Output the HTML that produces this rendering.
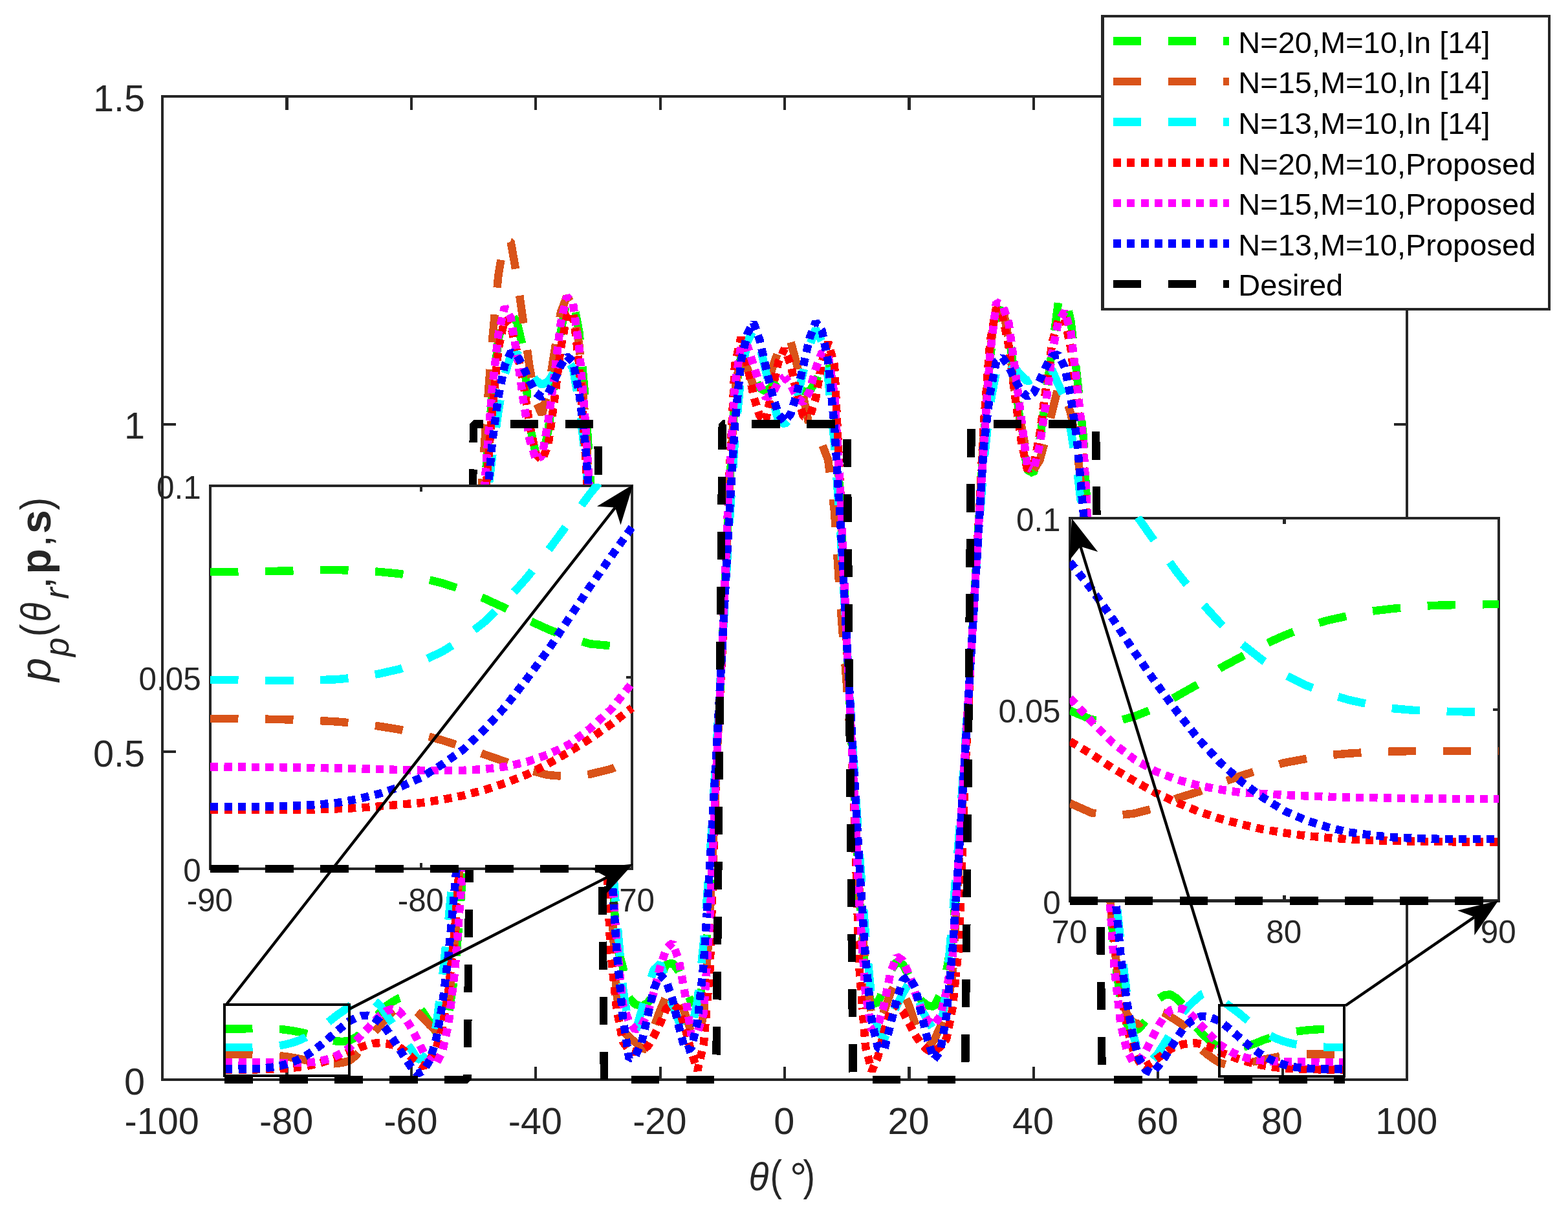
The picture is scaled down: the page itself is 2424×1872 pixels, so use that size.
<!DOCTYPE html>
<html lang="en"><head><meta charset="utf-8"><title>Beampattern comparison</title>
<style>html,body{margin:0;padding:0;background:#fff;}body{width:2424px;height:1872px;overflow:hidden;}svg{display:block;}text{font-family:"Liberation Sans", sans-serif;fill:#262626;}.c{fill:none;stroke-width:12.5;stroke-linejoin:bevel;stroke-linecap:butt;shape-rendering:crispEdges;}.ax{fill:none;stroke:#262626;stroke-width:4.2;shape-rendering:crispEdges;}.an{fill:none;stroke:#000;stroke-width:4.4;}.tk{font-size:57.6px;}.ti{font-size:49.4px;}.lg{font-size:47px;fill:#000;}</style></head><body>
<svg xmlns="http://www.w3.org/2000/svg" width="2424" height="1872" viewBox="0 0 2424 1872">
<rect x="0" y="0" width="2424" height="1872" fill="#fff"/>
<defs>
<clipPath id="cm"><rect x="243.0" y="141.0" width="1940.0" height="1536.0"/></clipPath>
<clipPath id="cl"><rect x="324.7" y="747.7" width="656.0" height="603.3"/></clipPath>
<clipPath id="cr"><rect x="1653.6" y="797.8" width="666.9000000000001" height="602.7"/></clipPath>
</defs>
<g id="main-axes">
<rect class="ax" x="251.0" y="149.0" width="1924.0" height="1520.0"/>
<path class="ax" d="M443.4 1669.0 V1648.5 M443.4 149.0 V169.5 M635.8 1669.0 V1648.5 M635.8 149.0 V169.5 M828.2 1669.0 V1648.5 M828.2 149.0 V169.5 M1020.6 1669.0 V1648.5 M1020.6 149.0 V169.5 M1213.0 1669.0 V1648.5 M1213.0 149.0 V169.5 M1405.4 1669.0 V1648.5 M1405.4 149.0 V169.5 M1597.8 1669.0 V1648.5 M1597.8 149.0 V169.5 M1790.2 1669.0 V1648.5 M1790.2 149.0 V169.5 M1982.6 1669.0 V1648.5 M1982.6 149.0 V169.5 M251.0 1162.3 H271.5 M2175.0 1162.3 H2154.5 M251.0 655.7 H271.5 M2175.0 655.7 H2154.5"/>
<text class="tk" x="250.2" y="1753.0" text-anchor="middle">-100</text>
<text class="tk" x="442.6" y="1753.0" text-anchor="middle">-80</text>
<text class="tk" x="635.0" y="1753.0" text-anchor="middle">-60</text>
<text class="tk" x="827.4" y="1753.0" text-anchor="middle">-40</text>
<text class="tk" x="1019.8" y="1753.0" text-anchor="middle">-20</text>
<text class="tk" x="1212.2" y="1753.0" text-anchor="middle">0</text>
<text class="tk" x="1404.6" y="1753.0" text-anchor="middle">20</text>
<text class="tk" x="1597.0" y="1753.0" text-anchor="middle">40</text>
<text class="tk" x="1789.4" y="1753.0" text-anchor="middle">60</text>
<text class="tk" x="1981.8" y="1753.0" text-anchor="middle">80</text>
<text class="tk" x="2174.2" y="1753.0" text-anchor="middle">100</text>
<text class="tk" x="224.0" y="1691.6" text-anchor="end">0</text>
<text class="tk" x="224.0" y="1184.9" text-anchor="end">0.5</text>
<text class="tk" x="224.0" y="678.3" text-anchor="end">1</text>
<text class="tk" x="224.0" y="171.6" text-anchor="end">1.5</text>
</g>
<g id="main-curves" clip-path="url(#cm)">
<path class="c" stroke="#00ff00" stroke-dasharray="43.3 41.73" stroke-dashoffset="0.0" d="M347.2 1590.5 L356.8 1590.5 L366.4 1590.4 L376.1 1590.3 L385.7 1590.2 L395.3 1590.0 L404.9 1590.0 L414.5 1590.1 L424.2 1590.5 L433.8 1591.0 L443.4 1592.1 L453.0 1593.5 L462.6 1595.3 L472.3 1597.5 L481.9 1600.1 L491.5 1603.1 L501.1 1605.6 L510.7 1607.9 L520.4 1609.5 L530.0 1610.0 L539.6 1608.7 L549.2 1604.1 L558.8 1597.1 L568.5 1586.9 L578.1 1575.8 L587.7 1564.6 L597.3 1555.0 L606.9 1548.4 L616.6 1543.3 L626.2 1540.3 L635.8 1543.3 L645.4 1553.5 L655.0 1566.0 L664.7 1580.8 L674.3 1595.8 L683.9 1593.0 L693.5 1567.7 L703.1 1506.9 L712.8 1385.3 L722.4 1233.3 L727.2 1147.1"/>
<path class="c" stroke="#00ff00" stroke-dasharray="43.3 41.73" stroke-dashoffset="0.0" d="M727.2 1147.1 L732.0 1061.0 L741.6 888.7 L751.2 726.6 L760.9 610.1 L770.5 523.9 L780.1 488.5 L789.7 483.4 L799.3 498.6 L809.0 539.1 L818.6 655.7 L828.2 701.3 L837.8 711.4 L847.4 665.8 L857.1 594.9 L866.7 513.8 L876.3 463.1 L885.9 463.1 L895.5 513.8 L905.2 620.2 L914.8 777.3 L924.4 959.7 L929.2 1045.8"/>
<path class="c" stroke="#00ff00" stroke-dasharray="43.3 41.73" stroke-dashoffset="10.6" d="M929.2 1045.8 L934.0 1131.9 L943.6 1304.2 L953.3 1461.3 L962.9 1494.7 L972.5 1542.3 L982.1 1552.5 L991.7 1555.5 L1001.4 1550.4 L1011.0 1535.2 L1020.6 1508.9 L1030.2 1490.7 L1039.8 1488.6 L1049.5 1501.8 L1059.1 1527.1 L1068.7 1549.4 L1078.3 1552.5 L1087.9 1517.0 L1097.6 1385.3 L1107.2 1192.7 L1112.0 1093.9"/>
<path class="c" stroke="#00ff00" stroke-dasharray="43.3 41.73" stroke-dashoffset="0.0" d="M1112.0 1093.9 L1116.8 995.1 L1126.4 777.3 L1136.0 615.1 L1145.7 549.3 L1155.3 559.4 L1164.9 579.7 L1174.5 599.9 L1184.1 605.0 L1193.8 596.9 L1203.4 586.8 L1213.0 584.7 L1222.6 589.8 L1232.2 596.9 L1241.9 605.0 L1251.5 605.0 L1261.1 589.8 L1270.7 564.5 L1280.3 554.3 L1290.0 615.1 L1299.6 787.4 L1309.2 995.1 L1314.0 1093.9"/>
<path class="c" stroke="#00ff00" stroke-dasharray="43.3 41.73" stroke-dashoffset="69.6" d="M1314.0 1093.9 L1318.8 1192.7 L1328.4 1385.3 L1338.1 1517.0 L1347.7 1552.5 L1357.3 1549.4 L1366.9 1527.1 L1376.5 1501.8 L1386.2 1486.6 L1395.8 1490.7 L1405.4 1508.9 L1415.0 1532.2 L1424.6 1547.4 L1434.3 1554.5 L1443.9 1555.8 L1453.5 1537.3 L1463.1 1501.8 L1472.7 1446.1 L1482.4 1321.4 L1492.0 1162.3 L1496.8 1083.8"/>
<path class="c" stroke="#00ff00" stroke-dasharray="43.3 41.73" stroke-dashoffset="6.9" d="M1496.8 1083.8 L1501.6 1005.3 L1511.2 838.1 L1520.8 681.0 L1530.5 554.3 L1540.1 483.4 L1549.7 478.3 L1559.3 513.8 L1568.9 584.7 L1578.6 665.8 L1588.2 726.6 L1597.8 731.7 L1607.4 681.0 L1617.0 610.1 L1626.7 539.1 L1636.3 465.2 L1645.9 456.0 L1655.5 496.6 L1665.1 582.7 L1674.8 675.9 L1684.4 858.3 L1694.0 1025.5 L1698.8 1109.1"/>
<path class="c" stroke="#00ff00" stroke-dasharray="43.3 41.73" stroke-dashoffset="36.0" d="M1698.8 1109.1 L1703.6 1192.7 L1713.2 1354.9 L1722.9 1476.5 L1732.5 1547.4 L1742.1 1582.9 L1751.7 1595.0 L1761.3 1590.0 L1771.0 1577.8 L1780.6 1559.6 L1790.2 1544.4 L1799.8 1538.3 L1809.4 1537.3 L1819.1 1543.3 L1828.7 1552.9 L1838.3 1569.7 L1847.9 1585.9 L1857.5 1597.1 L1867.2 1606.2 L1876.8 1614.3 L1886.4 1618.6 L1896.0 1621.0 L1905.6 1621.8 L1915.3 1620.2 L1924.9 1617.9 L1934.5 1614.8 L1944.1 1611.6 L1953.7 1607.4 L1963.4 1604.4 L1973.0 1601.3 L1982.6 1598.7 L1992.2 1596.5 L2001.8 1594.8 L2011.5 1593.5 L2021.1 1592.4 L2030.7 1591.7 L2040.3 1591.1 L2049.9 1590.8 L2059.6 1590.7 L2069.2 1590.6 L2078.8 1590.5"/>
<path class="c" stroke="#d95319" stroke-dasharray="43.3 41.73" stroke-dashoffset="0.0" d="M347.2 1629.3 L356.8 1629.3 L366.4 1629.4 L376.1 1629.5 L385.7 1629.6 L395.3 1629.8 L404.9 1630.1 L414.5 1630.6 L424.2 1631.3 L433.8 1632.2 L443.4 1633.5 L453.0 1635.0 L462.6 1636.8 L472.3 1638.8 L481.9 1640.7 L491.5 1642.8 L501.1 1644.2 L510.7 1644.7 L520.4 1644.0 L530.0 1642.6 L539.6 1640.1 L549.2 1632.5 L558.8 1621.4 L568.5 1608.2 L578.1 1596.0 L587.7 1584.9 L597.3 1573.7 L606.9 1564.1 L616.6 1556.5 L626.2 1553.5 L635.8 1556.5 L645.4 1564.6 L655.0 1574.8 L664.7 1584.9 L674.3 1594.0 L683.9 1590.0 L693.5 1552.5 L703.1 1456.2 L712.8 1304.2 L722.4 1131.9 L727.2 1045.8"/>
<path class="c" stroke="#d95319" stroke-dasharray="43.3 41.73" stroke-dashoffset="77.6" d="M727.2 1045.8 L732.0 959.7 L741.6 797.5 L751.2 655.7 L760.9 528.0 L770.5 424.6 L780.1 369.9 L789.7 374.0 L799.3 428.7 L809.0 497.6 L818.6 566.5 L828.2 620.2 L837.8 640.5 L847.4 605.0 L857.1 544.2 L866.7 483.4 L876.3 458.1 L885.9 473.3 L895.5 534.1 L905.2 655.7 L914.8 817.8 L924.4 1000.2 L929.2 1086.3"/>
<path class="c" stroke="#d95319" stroke-dasharray="43.3 41.73" stroke-dashoffset="82.2" d="M929.2 1086.3 L934.0 1172.5 L943.6 1365.0 L953.3 1537.3 L962.9 1593.0 L972.5 1603.1 L982.1 1611.2 L991.7 1620.4 L1001.4 1622.4 L1011.0 1587.9 L1020.6 1561.6 L1030.2 1539.3 L1039.8 1532.2 L1049.5 1540.3 L1059.1 1567.7 L1068.7 1596.0 L1078.3 1608.2 L1087.9 1567.7 L1097.6 1415.7 L1107.2 1192.7 L1112.0 1093.9"/>
<path class="c" stroke="#d95319" stroke-dasharray="43.3 41.73" stroke-dashoffset="27.9" d="M1112.0 1093.9 L1116.8 995.1 L1126.4 777.3 L1136.0 605.0 L1145.7 544.2 L1155.3 569.5 L1164.9 596.9 L1174.5 611.1 L1184.1 605.0 L1193.8 569.5 L1203.4 542.2 L1213.0 520.9 L1222.6 529.0 L1232.2 564.5 L1241.9 613.1 L1251.5 660.7 L1261.1 678.0 L1270.7 686.1 L1280.3 711.4 L1290.0 790.4 L1299.6 939.4 L1309.2 1061.0 L1314.0 1131.9"/>
<path class="c" stroke="#d95319" stroke-dasharray="43.3 41.73" stroke-dashoffset="36.0" d="M1314.0 1131.9 L1318.8 1202.9 L1328.4 1375.1 L1338.1 1496.7 L1347.7 1572.7 L1357.3 1582.9 L1366.9 1562.6 L1376.5 1535.2 L1386.2 1517.0 L1395.8 1532.2 L1405.4 1554.5 L1415.0 1582.9 L1424.6 1608.2 L1434.3 1618.3 L1443.9 1608.2 L1453.5 1587.9 L1463.1 1562.6 L1472.7 1506.9 L1482.4 1334.6 L1492.0 1162.3 L1496.8 1083.8"/>
<path class="c" stroke="#d95319" stroke-dasharray="43.3 41.73" stroke-dashoffset="48.2" d="M1496.8 1083.8 L1501.6 1005.3 L1511.2 838.1 L1520.8 675.9 L1530.5 544.2 L1540.1 468.2 L1549.7 473.3 L1559.3 523.9 L1568.9 609.1 L1578.6 655.7 L1588.2 706.3 L1597.8 726.6 L1607.4 711.4 L1617.0 675.9 L1626.7 635.4 L1636.3 596.9 L1645.9 610.1 L1655.5 639.5 L1665.1 696.2 L1674.8 777.3 L1684.4 888.7 L1694.0 1025.5 L1698.8 1109.1"/>
<path class="c" stroke="#d95319" stroke-dasharray="43.3 41.73" stroke-dashoffset="62.1" d="M1698.8 1109.1 L1703.6 1192.7 L1713.2 1354.9 L1722.9 1466.3 L1732.5 1537.3 L1742.1 1567.7 L1751.7 1580.8 L1761.3 1582.9 L1771.0 1572.7 L1780.6 1563.6 L1790.2 1561.6 L1799.8 1565.6 L1809.4 1571.7 L1819.1 1577.8 L1828.7 1584.4 L1838.3 1596.0 L1847.9 1610.2 L1857.5 1622.4 L1867.2 1630.5 L1876.8 1637.6 L1886.4 1643.2 L1896.0 1645.7 L1905.6 1646.5 L1915.3 1645.9 L1924.9 1644.4 L1934.5 1641.8 L1944.1 1640.1 L1953.7 1637.8 L1963.4 1635.9 L1973.0 1634.1 L1982.6 1632.5 L1992.2 1631.4 L2001.8 1630.5 L2011.5 1630.0 L2021.1 1629.7 L2030.7 1629.5 L2040.3 1629.4 L2049.9 1629.4 L2059.6 1629.4 L2069.2 1629.4 L2078.8 1629.4"/>
<path class="c" stroke="#00ffff" stroke-dasharray="43.3 41.73" stroke-dashoffset="0.0" d="M347.2 1619.0 L356.8 1619.1 L366.4 1619.1 L376.1 1619.2 L385.7 1619.2 L395.3 1619.1 L404.9 1618.9 L414.5 1618.4 L424.2 1617.4 L433.8 1616.1 L443.4 1614.1 L453.0 1611.6 L462.6 1608.1 L472.3 1603.7 L481.9 1598.3 L491.5 1592.1 L501.1 1585.0 L510.7 1577.4 L520.4 1569.8 L530.0 1563.1 L539.6 1556.2 L549.2 1549.4 L558.8 1544.4 L568.5 1542.8 L578.1 1546.4 L587.7 1554.5 L597.3 1568.7 L606.9 1582.6 L616.6 1595.5 L626.2 1609.2 L635.8 1622.4 L645.4 1637.6 L655.0 1635.6 L664.7 1622.4 L674.3 1585.9 L683.9 1511.9 L693.5 1420.7 L703.1 1319.4 L712.8 1213.0 L722.4 1106.6 L727.2 1053.4"/>
<path class="c" stroke="#00ffff" stroke-dasharray="43.3 41.73" stroke-dashoffset="30.7" d="M727.2 1053.4 L732.0 1000.2 L741.6 893.8 L751.2 787.4 L760.9 706.3 L770.5 635.4 L780.1 579.7 L789.7 549.3 L799.3 546.2 L809.0 559.4 L818.6 574.6 L828.2 587.8 L837.8 594.9 L847.4 589.8 L857.1 574.6 L866.7 559.4 L876.3 554.3 L885.9 569.5 L895.5 625.3 L905.2 711.4 L914.8 838.1 L924.4 1000.2 L929.2 1076.2"/>
<path class="c" stroke="#00ffff" stroke-dasharray="43.3 41.73" stroke-dashoffset="65.4" d="M929.2 1076.2 L934.0 1152.2 L943.6 1294.1 L953.3 1415.7 L962.9 1527.1 L972.5 1587.9 L982.1 1596.0 L991.7 1562.6 L1001.4 1527.1 L1011.0 1498.8 L1020.6 1489.6 L1030.2 1517.0 L1039.8 1554.5 L1049.5 1578.8 L1059.1 1596.0 L1068.7 1593.0 L1078.3 1547.4 L1087.9 1456.2 L1097.6 1324.5 L1107.2 1162.3 L1112.0 1078.7"/>
<path class="c" stroke="#00ffff" stroke-dasharray="43.3 41.73" stroke-dashoffset="69.6" d="M1112.0 1078.7 L1116.8 995.1 L1126.4 827.9 L1136.0 681.0 L1145.7 579.7 L1155.3 529.0 L1164.9 508.7 L1174.5 534.1 L1184.1 574.6 L1193.8 615.1 L1203.4 650.6 L1213.0 655.7 L1222.6 645.5 L1232.2 615.1 L1241.9 574.6 L1251.5 534.1 L1261.1 508.7 L1270.7 529.0 L1280.3 584.7 L1290.0 686.1 L1299.6 827.9 L1309.2 995.1 L1314.0 1078.7"/>
<path class="c" stroke="#00ffff" stroke-dasharray="43.3 41.73" stroke-dashoffset="13.1" d="M1314.0 1078.7 L1318.8 1162.3 L1328.4 1314.3 L1338.1 1446.1 L1347.7 1547.4 L1357.3 1593.0 L1366.9 1606.7 L1376.5 1579.8 L1386.2 1554.5 L1395.8 1535.2 L1405.4 1519.6 L1415.0 1522.1 L1424.6 1560.6 L1434.3 1577.8 L1443.9 1593.0 L1453.5 1598.1 L1463.1 1527.1 L1472.7 1415.7 L1482.4 1294.1 L1492.0 1152.2 L1496.8 1078.7"/>
<path class="c" stroke="#00ffff" stroke-dasharray="43.3 41.73" stroke-dashoffset="50.7" d="M1496.8 1078.7 L1501.6 1005.3 L1511.2 848.2 L1520.8 716.5 L1530.5 625.3 L1540.1 574.6 L1549.7 554.3 L1559.3 559.4 L1568.9 569.5 L1578.6 579.7 L1588.2 589.8 L1597.8 584.7 L1607.4 574.6 L1617.0 564.5 L1626.7 572.6 L1636.3 594.9 L1645.9 615.1 L1655.5 665.8 L1665.1 726.6 L1674.8 807.7 L1684.4 909.0 L1694.0 1025.5 L1698.8 1083.8"/>
<path class="c" stroke="#00ffff" stroke-dasharray="43.3 41.73" stroke-dashoffset="16.8" d="M1698.8 1083.8 L1703.6 1142.1 L1713.2 1253.5 L1722.9 1365.0 L1732.5 1456.2 L1742.1 1537.3 L1751.7 1598.1 L1761.3 1633.5 L1771.0 1640.6 L1780.6 1639.6 L1790.2 1628.5 L1799.8 1613.3 L1809.4 1598.1 L1819.1 1580.8 L1828.7 1565.1 L1838.3 1554.5 L1847.9 1545.4 L1857.5 1537.3 L1867.2 1533.2 L1876.8 1536.3 L1886.4 1544.6 L1896.0 1551.8 L1905.6 1559.0 L1915.3 1566.1 L1924.9 1574.2 L1934.5 1582.1 L1944.1 1589.2 L1953.7 1595.5 L1963.4 1600.9 L1973.0 1605.4 L1982.6 1609.1 L1992.2 1611.9 L2001.8 1614.1 L2011.5 1615.8 L2021.1 1617.1 L2030.7 1618.1 L2040.3 1618.5 L2049.9 1618.8 L2059.6 1618.9 L2069.2 1619.0 L2078.8 1619.0"/>
<path class="c" stroke="#ff0000" stroke-dasharray="12.2 9.1" stroke-dashoffset="0.0" d="M347.2 1653.4 L356.8 1653.4 L366.4 1653.4 L376.1 1653.4 L385.7 1653.4 L395.3 1653.3 L404.9 1653.1 L414.5 1652.9 L424.2 1652.5 L433.8 1652.0 L443.4 1651.6 L453.0 1650.7 L462.6 1649.6 L472.3 1648.2 L481.9 1646.3 L491.5 1644.1 L501.1 1641.3 L510.7 1638.1 L520.4 1634.6 L530.0 1630.8 L539.6 1626.4 L549.2 1622.9 L558.8 1618.3 L568.5 1615.3 L578.1 1612.8 L587.7 1612.1 L597.3 1613.3 L606.9 1615.3 L616.6 1617.8 L626.2 1625.4 L635.8 1634.5 L645.4 1642.7 L655.0 1648.7 L664.7 1638.6 L674.3 1620.4 L683.9 1587.9 L693.5 1531.2 L703.1 1435.9 L712.8 1304.2 L722.4 1162.3 L727.2 1088.9"/>
<path class="c" stroke="#ff0000" stroke-dasharray="12.2 9.1" stroke-dashoffset="20.9" d="M727.2 1088.9 L732.0 1015.4 L741.6 878.6 L751.2 757.0 L760.9 635.4 L770.5 539.1 L780.1 493.5 L789.7 503.7 L799.3 544.2 L809.0 591.8 L818.6 655.7 L828.2 701.3 L833.0 706.3"/>
<path class="c" stroke="#ff0000" stroke-dasharray="12.2 9.1" stroke-dashoffset="7.6" d="M833.0 706.3 L837.8 711.4 L847.4 688.1 L857.1 618.2 L866.7 539.1 L876.3 488.5 L885.9 483.4 L895.5 564.5 L905.2 706.3 L914.8 868.5 L924.4 1040.7 L929.2 1142.1"/>
<path class="c" stroke="#ff0000" stroke-dasharray="12.2 9.1" stroke-dashoffset="20.3" d="M929.2 1142.1 L934.0 1243.4 L943.6 1466.3 L953.3 1559.6 L962.9 1610.2 L972.5 1623.4 L982.1 1626.4 L991.7 1624.4 L1001.4 1617.3 L1011.0 1601.1 L1020.6 1581.9 L1030.2 1558.5 L1039.8 1552.5 L1049.5 1559.6 L1059.1 1588.9 L1068.7 1626.4 L1078.3 1654.8 L1087.9 1613.3 L1092.8 1555.0"/>
<path class="c" stroke="#ff0000" stroke-dasharray="12.2 9.1" stroke-dashoffset="13.2" d="M1092.8 1555.0 L1097.6 1496.7 L1107.2 1192.7 L1116.8 1000.2 L1126.4 757.0 L1130.3 680.0"/>
<path class="c" stroke="#ff0000" stroke-dasharray="12.2 9.1" stroke-dashoffset="19.6" d="M1130.3 680.0 L1136.0 564.5 L1145.7 520.9 L1155.3 564.5 L1164.9 612.1 L1174.5 643.5 L1180.3 645.9"/>
<path class="c" stroke="#ff0000" stroke-dasharray="12.2 9.1" stroke-dashoffset="20.8" d="M1180.3 645.9 L1184.1 647.6 L1193.8 603.0 L1203.4 559.4 L1213.0 539.1 L1222.6 564.5 L1232.2 611.1 L1241.9 643.5 L1245.7 644.3"/>
<path class="c" stroke="#ff0000" stroke-dasharray="12.2 9.1" stroke-dashoffset="10.3" d="M1245.7 644.3 L1251.5 645.5 L1261.1 615.1 L1270.7 559.4 L1280.3 529.0 L1290.0 564.5 L1295.7 686.1"/>
<path class="c" stroke="#ff0000" stroke-dasharray="12.2 9.1" stroke-dashoffset="19.1" d="M1295.7 686.1 L1299.6 767.1 L1309.2 1000.2 L1318.8 1192.7 L1328.4 1496.7 L1333.2 1557.5"/>
<path class="c" stroke="#ff0000" stroke-dasharray="12.2 9.1" stroke-dashoffset="9.5" d="M1333.2 1557.5 L1338.1 1618.3 L1347.7 1655.8 L1357.3 1633.5 L1366.9 1593.0 L1376.5 1562.6 L1386.2 1552.5 L1395.8 1563.6 L1405.4 1581.9 L1415.0 1600.1 L1424.6 1614.3 L1434.3 1623.4 L1443.9 1625.4 L1453.5 1618.3 L1463.1 1606.2 L1472.7 1557.5 L1477.5 1509.4"/>
<path class="c" stroke="#ff0000" stroke-dasharray="12.2 9.1" stroke-dashoffset="5.3" d="M1477.5 1509.4 L1482.4 1461.3 L1492.0 1192.7 L1501.6 1005.3 L1511.2 838.1 L1517.0 728.6"/>
<path class="c" stroke="#ff0000" stroke-dasharray="12.2 9.1" stroke-dashoffset="10.1" d="M1517.0 728.6 L1520.8 655.7 L1530.5 529.0 L1540.1 475.3 L1549.7 488.5 L1559.3 534.1 L1568.9 610.1 L1578.6 681.0 L1588.2 726.6 L1591.1 725.1"/>
<path class="c" stroke="#ff0000" stroke-dasharray="12.2 9.1" stroke-dashoffset="9.9" d="M1591.1 725.1 L1597.8 721.5 L1607.4 670.9 L1617.0 599.9 L1626.7 529.0 L1636.3 493.5 L1645.9 493.5 L1655.5 539.1 L1665.1 620.2 L1674.8 716.5 L1684.4 878.6 L1694.0 1025.5 L1698.8 1104.1"/>
<path class="c" stroke="#ff0000" stroke-dasharray="12.2 9.1" stroke-dashoffset="0.1" d="M1698.8 1104.1 L1703.6 1182.6 L1713.2 1334.6 L1722.9 1456.2 L1732.5 1527.1 L1742.1 1587.9 L1751.7 1623.4 L1761.3 1641.6 L1771.0 1648.7 L1780.6 1642.7 L1790.2 1635.6 L1799.8 1628.5 L1809.4 1621.8 L1819.1 1617.3 L1828.7 1614.3 L1838.3 1612.8 L1847.9 1612.3 L1857.5 1614.3 L1867.2 1617.3 L1876.8 1621.4 L1886.4 1626.7 L1896.0 1630.2 L1905.6 1633.9 L1915.3 1637.3 L1924.9 1640.4 L1934.5 1643.0 L1944.1 1645.4 L1953.7 1647.2 L1963.4 1648.8 L1973.0 1650.1 L1982.6 1651.0 L1992.2 1651.8 L2001.8 1652.3 L2011.5 1652.7 L2021.1 1653.0 L2030.7 1653.1 L2040.3 1653.3 L2049.9 1653.3 L2059.6 1653.4 L2069.2 1653.4 L2078.8 1653.4"/>
<path class="c" stroke="#ff00ff" stroke-dasharray="12.2 9.1" stroke-dashoffset="0.0" d="M347.2 1642.0 L356.8 1642.1 L366.4 1642.1 L376.1 1642.2 L385.7 1642.2 L395.3 1642.3 L404.9 1642.4 L414.5 1642.5 L424.2 1642.7 L433.8 1642.8 L443.4 1643.0 L453.0 1643.0 L462.6 1643.0 L472.3 1642.6 L481.9 1642.0 L491.5 1640.7 L501.1 1638.8 L510.7 1636.2 L520.4 1631.9 L530.0 1626.8 L539.6 1619.9 L549.2 1610.2 L558.8 1600.1 L568.5 1590.0 L578.1 1578.8 L587.7 1569.7 L597.3 1562.6 L606.9 1559.6 L616.6 1562.6 L626.2 1573.7 L635.8 1588.9 L645.4 1607.2 L655.0 1627.5 L664.7 1639.6 L674.3 1644.7 L683.9 1625.4 L693.5 1581.9 L703.1 1501.8 L712.8 1375.1 L722.4 1223.1 L727.2 1137.0"/>
<path class="c" stroke="#ff00ff" stroke-dasharray="12.2 9.1" stroke-dashoffset="2.6" d="M727.2 1137.0 L732.0 1050.9 L741.6 878.6 L751.2 721.5 L760.9 600.9 L770.5 516.8 L780.1 474.3 L789.7 491.5 L799.3 548.3 L809.0 618.2 L818.6 679.0 L828.2 709.4 L833.0 707.3"/>
<path class="c" stroke="#ff00ff" stroke-dasharray="12.2 9.1" stroke-dashoffset="6.2" d="M833.0 707.3 L837.8 705.3 L847.4 652.6 L857.1 579.7 L866.7 500.6 L876.3 458.1 L885.9 469.2 L895.5 539.1 L905.2 655.7 L914.8 817.8 L924.4 1000.2 L929.2 1078.7"/>
<path class="c" stroke="#ff00ff" stroke-dasharray="12.2 9.1" stroke-dashoffset="0.8" d="M929.2 1078.7 L934.0 1157.3 L943.6 1314.3 L953.3 1456.2 L962.9 1552.5 L972.5 1579.8 L982.1 1592.0 L991.7 1585.9 L1001.4 1565.6 L1011.0 1533.2 L1020.6 1494.7 L1030.2 1466.3 L1039.8 1457.2 L1049.5 1484.6 L1059.1 1537.3 L1068.7 1600.1 L1078.3 1596.0 L1087.9 1565.6 L1092.8 1490.7"/>
<path class="c" stroke="#ff00ff" stroke-dasharray="12.2 9.1" stroke-dashoffset="13.6" d="M1092.8 1490.7 L1097.6 1415.7 L1107.2 1192.7 L1116.8 995.1 L1126.4 757.0 L1130.3 692.1"/>
<path class="c" stroke="#ff00ff" stroke-dasharray="12.2 9.1" stroke-dashoffset="5.2" d="M1130.3 692.1 L1136.0 594.9 L1145.7 534.1 L1155.3 534.1 L1164.9 564.5 L1174.5 594.9 L1184.1 615.1 L1193.8 610.1 L1203.4 589.8 L1213.0 582.7"/>
<path class="c" stroke="#ff00ff" stroke-dasharray="12.2 9.1" stroke-dashoffset="3.2" d="M1213.0 582.7 L1222.6 594.9 L1232.2 615.1 L1241.9 622.2 L1251.5 605.0 L1261.1 569.5 L1270.7 544.2 L1280.3 549.3 L1290.0 610.1 L1295.7 704.3"/>
<path class="c" stroke="#ff00ff" stroke-dasharray="12.2 9.1" stroke-dashoffset="16.0" d="M1295.7 704.3 L1299.6 767.1 L1309.2 995.1 L1318.8 1192.7 L1328.4 1395.4 L1333.2 1466.3"/>
<path class="c" stroke="#ff00ff" stroke-dasharray="12.2 9.1" stroke-dashoffset="5.0" d="M1333.2 1466.3 L1338.1 1537.3 L1347.7 1593.0 L1357.3 1585.9 L1366.9 1552.5 L1376.5 1503.8 L1386.2 1478.5 L1395.8 1484.6 L1405.4 1506.9 L1415.0 1535.2 L1424.6 1560.6 L1434.3 1577.8 L1443.9 1583.9 L1453.5 1570.7 L1463.1 1532.2 L1472.7 1476.5 L1477.5 1398.9"/>
<path class="c" stroke="#ff00ff" stroke-dasharray="12.2 9.1" stroke-dashoffset="9.1" d="M1477.5 1398.9 L1482.4 1321.4 L1492.0 1162.3 L1501.6 1005.3 L1511.2 838.1 L1517.0 748.7"/>
<path class="c" stroke="#ff00ff" stroke-dasharray="12.2 9.1" stroke-dashoffset="0.7" d="M1517.0 748.7 L1520.8 689.1 L1530.5 549.3 L1540.1 467.2 L1549.7 471.2 L1559.3 498.6 L1568.9 569.5 L1578.6 645.5 L1588.2 721.5 L1591.1 723.1"/>
<path class="c" stroke="#ff00ff" stroke-dasharray="12.2 9.1" stroke-dashoffset="7.9" d="M1591.1 723.1 L1597.8 726.6 L1607.4 688.1 L1617.0 623.2 L1626.7 544.2 L1636.3 496.6 L1645.9 481.4 L1655.5 513.8 L1665.1 594.9 L1674.8 684.0 L1684.4 858.3 L1694.0 1025.5 L1698.8 1109.1"/>
<path class="c" stroke="#ff00ff" stroke-dasharray="12.2 9.1" stroke-dashoffset="8.7" d="M1698.8 1109.1 L1703.6 1192.7 L1713.2 1354.9 L1722.9 1498.8 L1732.5 1582.9 L1742.1 1624.4 L1751.7 1641.6 L1761.3 1639.6 L1771.0 1625.4 L1780.6 1606.2 L1790.2 1586.9 L1799.8 1571.7 L1809.4 1561.6 L1819.1 1558.5 L1828.7 1559.6 L1838.3 1565.6 L1847.9 1575.8 L1857.5 1585.9 L1867.2 1596.0 L1876.8 1606.2 L1886.4 1615.3 L1896.0 1621.5 L1905.6 1627.2 L1915.3 1631.5 L1924.9 1634.7 L1934.5 1636.9 L1944.1 1638.5 L1953.7 1639.5 L1963.4 1640.4 L1973.0 1640.7 L1982.6 1641.0 L1992.2 1641.2 L2001.8 1641.4 L2011.5 1641.6 L2021.1 1641.7 L2030.7 1641.8 L2040.3 1641.9 L2049.9 1642.0 L2059.6 1642.0 L2069.2 1642.0 L2078.8 1642.0"/>
<path class="c" stroke="#0000ff" stroke-dasharray="12.2 9.1" stroke-dashoffset="0.0" d="M347.2 1652.6 L356.8 1652.6 L366.4 1652.6 L376.1 1652.5 L385.7 1652.3 L395.3 1652.1 L404.9 1651.6 L414.5 1650.5 L424.2 1649.2 L433.8 1647.4 L443.4 1644.9 L453.0 1641.4 L462.6 1637.4 L472.3 1632.2 L481.9 1626.0 L491.5 1618.9 L501.1 1611.3 L510.7 1602.8 L520.4 1594.4 L530.0 1586.5 L539.6 1578.6 L549.2 1573.7 L558.8 1570.2 L568.5 1569.7 L578.1 1573.2 L587.7 1580.3 L597.3 1591.0 L606.9 1605.2 L616.6 1620.4 L626.2 1635.6 L635.8 1649.7 L645.4 1659.9 L655.0 1654.8 L664.7 1638.6 L674.3 1606.2 L683.9 1552.5 L693.5 1474.4 L703.1 1372.1 L712.8 1258.6 L722.4 1142.1 L727.2 1083.8"/>
<path class="c" stroke="#0000ff" stroke-dasharray="12.2 9.1" stroke-dashoffset="18.4" d="M727.2 1083.8 L732.0 1025.5 L741.6 909.0 L751.2 792.5 L760.9 684.0 L770.5 613.1 L780.1 565.5 L789.7 544.2 L799.3 549.3 L809.0 567.5 L818.6 588.8 L828.2 607.0 L833.0 610.6"/>
<path class="c" stroke="#0000ff" stroke-dasharray="12.2 9.1" stroke-dashoffset="3.6" d="M833.0 610.6 L837.8 614.1 L847.4 608.0 L857.1 587.8 L866.7 565.5 L876.3 550.3 L885.9 559.4 L895.5 608.0 L905.2 689.1 L914.8 827.9 L924.4 990.1 L929.2 1072.1"/>
<path class="c" stroke="#0000ff" stroke-dasharray="12.2 9.1" stroke-dashoffset="18.2" d="M929.2 1072.1 L934.0 1154.2 L943.6 1317.4 L953.3 1468.4 L962.9 1572.7 L972.5 1636.6 L982.1 1632.5 L991.7 1612.3 L1001.4 1569.7 L1011.0 1528.1 L1020.6 1506.9 L1030.2 1517.0 L1039.8 1545.4 L1049.5 1586.9 L1059.1 1623.4 L1068.7 1620.4 L1078.3 1579.8 L1087.9 1488.6 L1092.8 1411.6"/>
<path class="c" stroke="#0000ff" stroke-dasharray="12.2 9.1" stroke-dashoffset="17.9" d="M1092.8 1411.6 L1097.6 1334.6 L1107.2 1167.4 L1116.8 995.1 L1126.4 812.7 L1130.3 749.9"/>
<path class="c" stroke="#0000ff" stroke-dasharray="12.2 9.1" stroke-dashoffset="0.4" d="M1130.3 749.9 L1136.0 655.7 L1145.7 557.4 L1155.3 515.8 L1164.9 498.6 L1174.5 526.0 L1184.1 568.5 L1193.8 609.1 L1203.4 640.5 L1213.0 651.6"/>
<path class="c" stroke="#0000ff" stroke-dasharray="12.2 9.1" stroke-dashoffset="14.4" d="M1213.0 651.6 L1222.6 639.5 L1232.2 607.0 L1241.9 565.5 L1251.5 522.9 L1261.1 497.6 L1270.7 510.8 L1280.3 559.4 L1290.0 659.7 L1295.7 751.5"/>
<path class="c" stroke="#0000ff" stroke-dasharray="12.2 9.1" stroke-dashoffset="10.0" d="M1295.7 751.5 L1299.6 812.7 L1309.2 995.1 L1318.8 1167.4 L1328.4 1334.6 L1333.2 1408.1"/>
<path class="c" stroke="#0000ff" stroke-dasharray="12.2 9.1" stroke-dashoffset="8.3" d="M1333.2 1408.1 L1338.1 1481.5 L1347.7 1577.8 L1357.3 1620.4 L1366.9 1622.4 L1376.5 1584.9 L1386.2 1545.4 L1395.8 1515.0 L1405.4 1508.9 L1415.0 1527.1 L1424.6 1567.7 L1434.3 1608.2 L1443.9 1637.6 L1453.5 1625.4 L1463.1 1570.7 L1472.7 1466.3 L1477.5 1393.9"/>
<path class="c" stroke="#0000ff" stroke-dasharray="12.2 9.1" stroke-dashoffset="3.5" d="M1477.5 1393.9 L1482.4 1321.4 L1492.0 1163.3 L1501.6 1005.3 L1511.2 847.2 L1517.0 752.3"/>
<path class="c" stroke="#0000ff" stroke-dasharray="12.2 9.1" stroke-dashoffset="7.0" d="M1517.0 752.3 L1520.8 689.1 L1530.5 608.0 L1540.1 559.4 L1549.7 552.3 L1559.3 566.5 L1568.9 586.8 L1578.6 605.0 L1588.2 613.1 L1591.1 611.3"/>
<path class="c" stroke="#0000ff" stroke-dasharray="12.2 9.1" stroke-dashoffset="15.7" d="M1591.1 611.3 L1597.8 607.0 L1607.4 587.8 L1617.0 566.5 L1626.7 550.3 L1636.3 548.3 L1645.9 567.5 L1655.5 615.1 L1665.1 681.0 L1674.8 792.5 L1684.4 909.0 L1694.0 1025.5 L1698.8 1083.8"/>
<path class="c" stroke="#0000ff" stroke-dasharray="12.2 9.1" stroke-dashoffset="1.3" d="M1698.8 1083.8 L1703.6 1142.1 L1713.2 1258.6 L1722.9 1372.1 L1732.5 1476.5 L1742.1 1549.4 L1751.7 1604.1 L1761.3 1637.6 L1771.0 1653.8 L1780.6 1658.9 L1790.2 1648.7 L1799.8 1635.6 L1809.4 1620.4 L1819.1 1605.2 L1828.7 1591.0 L1838.3 1580.8 L1847.9 1574.8 L1857.5 1570.7 L1867.2 1571.7 L1876.8 1574.8 L1886.4 1579.3 L1896.0 1586.5 L1905.6 1594.4 L1915.3 1603.1 L1924.9 1611.3 L1934.5 1619.0 L1944.1 1626.2 L1953.7 1632.4 L1963.4 1637.5 L1973.0 1641.6 L1982.6 1645.2 L1992.2 1647.7 L2001.8 1649.5 L2011.5 1650.8 L2021.1 1651.6 L2030.7 1652.2 L2040.3 1652.4 L2049.9 1652.6 L2059.6 1652.7 L2069.2 1652.7 L2078.8 1652.7"/>
<path class="c" stroke="#000000" stroke-dasharray="43.3 41.73" stroke-dashoffset="0.0" d="M347.2 1669.0 L356.8 1669.0 L366.4 1669.0 L376.1 1669.0 L385.7 1669.0 L395.3 1669.0 L404.9 1669.0 L414.5 1669.0 L424.2 1669.0 L433.8 1669.0 L443.4 1669.0 L453.0 1669.0 L462.6 1669.0 L472.3 1669.0 L481.9 1669.0 L491.5 1669.0 L501.1 1669.0 L510.7 1669.0 L520.4 1669.0 L530.0 1669.0 L539.6 1669.0 L549.2 1669.0 L558.8 1669.0 L568.5 1669.0 L578.1 1669.0 L587.7 1669.0 L597.3 1669.0 L606.9 1669.0 L616.6 1669.0 L626.2 1669.0 L635.8 1669.0 L645.4 1669.0 L655.0 1669.0 L664.7 1669.0 L674.3 1669.0 L683.9 1669.0 L693.5 1669.0 L703.1 1669.0 L712.8 1669.0 L722.4 1669.0 L732.0 655.7 L741.6 655.7 L751.2 655.7 L760.9 655.7 L770.5 655.7 L780.1 655.7 L789.7 655.7 L799.3 655.7 L809.0 655.7 L818.6 655.7 L828.2 655.7 L837.8 655.7 L847.4 655.7 L857.1 655.7 L866.7 655.7 L876.3 655.7 L885.9 655.7 L895.5 655.7 L905.2 655.7 L914.8 655.7 L924.4 655.7 L934.0 1669.0 L943.6 1669.0 L953.3 1669.0 L962.9 1669.0 L972.5 1669.0 L982.1 1669.0 L991.7 1669.0 L1001.4 1669.0 L1011.0 1669.0 L1020.6 1669.0 L1030.2 1669.0 L1039.8 1669.0 L1049.5 1669.0 L1059.1 1669.0 L1068.7 1669.0 L1078.3 1669.0 L1087.9 1669.0 L1097.6 1669.0 L1107.2 1669.0 L1116.8 655.7 L1126.4 655.7 L1136.0 655.7 L1145.7 655.7 L1155.3 655.7 L1164.9 655.7 L1174.5 655.7 L1184.1 655.7 L1193.8 655.7 L1203.4 655.7 L1213.0 655.7 L1222.6 655.7 L1232.2 655.7 L1241.9 655.7 L1251.5 655.7 L1261.1 655.7 L1270.7 655.7 L1280.3 655.7 L1290.0 655.7 L1299.6 655.7 L1309.2 655.7 L1318.8 1669.0 L1328.4 1669.0 L1338.1 1669.0 L1347.7 1669.0 L1357.3 1669.0 L1366.9 1669.0 L1376.5 1669.0 L1386.2 1669.0 L1395.8 1669.0 L1405.4 1669.0 L1415.0 1669.0 L1424.6 1669.0 L1434.3 1669.0 L1443.9 1669.0 L1453.5 1669.0 L1463.1 1669.0 L1472.7 1669.0 L1482.4 1669.0 L1492.0 1669.0 L1501.6 655.7 L1511.2 655.7 L1520.8 655.7 L1530.5 655.7 L1540.1 655.7 L1549.7 655.7 L1559.3 655.7 L1568.9 655.7 L1578.6 655.7 L1588.2 655.7 L1597.8 655.7 L1607.4 655.7 L1617.0 655.7 L1626.7 655.7 L1636.3 655.7 L1645.9 655.7 L1655.5 655.7 L1665.1 655.7 L1674.8 655.7 L1684.4 655.7 L1694.0 655.7 L1703.6 1669.0 L1713.2 1669.0 L1722.9 1669.0 L1732.5 1669.0 L1742.1 1669.0 L1751.7 1669.0 L1761.3 1669.0 L1771.0 1669.0 L1780.6 1669.0 L1790.2 1669.0 L1799.8 1669.0 L1809.4 1669.0 L1819.1 1669.0 L1828.7 1669.0 L1838.3 1669.0 L1847.9 1669.0 L1857.5 1669.0 L1867.2 1669.0 L1876.8 1669.0 L1886.4 1669.0 L1896.0 1669.0 L1905.6 1669.0 L1915.3 1669.0 L1924.9 1669.0 L1934.5 1669.0 L1944.1 1669.0 L1953.7 1669.0 L1963.4 1669.0 L1973.0 1669.0 L1982.6 1669.0 L1992.2 1669.0 L2001.8 1669.0 L2011.5 1669.0 L2021.1 1669.0 L2030.7 1669.0 L2040.3 1669.0 L2049.9 1669.0 L2059.6 1669.0 L2069.2 1669.0 L2078.8 1669.0"/>
</g>
<g id="legend">
<rect x="1704.4" y="25.2" width="690.5" height="452.8" fill="#fff" stroke="#262626" stroke-width="4.3" shape-rendering="crispEdges"/>
<path class="c" stroke="#00ff00" stroke-dasharray="43.3 41.73" d="M1720.9 63.4 H1900.1"/>
<text class="lg" x="1914.3" y="81.7">N=20,M=10,In [14]</text>
<path class="c" stroke="#d95319" stroke-dasharray="43.3 41.73" d="M1720.9 126.0 H1900.1"/>
<text class="lg" x="1914.3" y="144.3">N=15,M=10,In [14]</text>
<path class="c" stroke="#00ffff" stroke-dasharray="43.3 41.73" d="M1720.9 188.6 H1900.1"/>
<text class="lg" x="1914.3" y="206.9">N=13,M=10,In [14]</text>
<path class="c" stroke="#ff0000" stroke-dasharray="12.2 9.1" d="M1720.9 251.3 H1900.1"/>
<text class="lg" x="1914.3" y="269.6">N=20,M=10,Proposed</text>
<path class="c" stroke="#ff00ff" stroke-dasharray="12.2 9.1" d="M1720.9 313.9 H1900.1"/>
<text class="lg" x="1914.3" y="332.2">N=15,M=10,Proposed</text>
<path class="c" stroke="#0000ff" stroke-dasharray="12.2 9.1" d="M1720.9 376.5 H1900.1"/>
<text class="lg" x="1914.3" y="394.8">N=13,M=10,Proposed</text>
<path class="c" stroke="#000000" stroke-dasharray="43.3 41.73" d="M1720.9 439.1 H1900.1"/>
<text class="lg" x="1914.3" y="457.4">Desired</text>
</g>
<g id="inset-cl">
<rect x="325.2" y="750.7" width="652.0" height="592.3" fill="#fff"/>
<rect class="ax" x="325.2" y="750.7" width="652.0" height="592.3"/>
<path class="ax" d="M651.2 1343.0 V1334.0 M651.2 750.7 V759.7 M325.2 1046.8 H334.2 M977.2 1046.8 H968.2"/>
<g clip-path="url(#cl)">
<path class="c" stroke="#00ff00" stroke-dasharray="43.3 41.73" stroke-dashoffset="0" d="M325.2 884.0 L357.8 883.9 L390.4 883.5 L423.0 882.9 L455.6 882.2 L488.2 881.3 L520.8 881.0 L553.4 882.0 L586.0 883.9 L618.6 887.0 L651.2 893.3 L683.8 901.5 L716.4 912.0 L749.0 925.3 L781.6 940.2 L814.2 957.6 L846.8 972.5 L879.4 985.7 L912.0 995.3 L944.6 998.3 L977.2 990.6"/>
<path class="c" stroke="#d95319" stroke-dasharray="43.3 41.73" stroke-dashoffset="0" d="M325.2 1110.8 L357.8 1111.0 L390.4 1111.3 L423.0 1111.9 L455.6 1112.6 L488.2 1113.8 L520.8 1115.5 L553.4 1118.4 L586.0 1122.6 L618.6 1128.0 L651.2 1135.5 L683.8 1144.3 L716.4 1154.7 L749.0 1166.3 L781.6 1177.6 L814.2 1189.7 L846.8 1197.9 L879.4 1200.8 L912.0 1196.7 L944.6 1188.8 L977.2 1174.2"/>
<path class="c" stroke="#00ffff" stroke-dasharray="43.3 41.73" stroke-dashoffset="0" d="M325.2 1051.0 L357.8 1051.1 L390.4 1051.6 L423.0 1052.1 L455.6 1052.0 L488.2 1051.3 L520.8 1050.2 L553.4 1047.0 L586.0 1041.5 L618.6 1034.1 L651.2 1022.3 L683.8 1007.3 L716.4 986.9 L749.0 961.2 L781.6 929.9 L814.2 893.3 L846.8 851.9 L879.4 807.8 L912.0 763.3 L944.6 724.0 L977.2 683.8"/>
<path class="c" stroke="#ff0000" stroke-dasharray="12.2 9.1" stroke-dashoffset="0" d="M325.2 1251.8 L357.8 1251.8 L390.4 1251.8 L423.0 1251.8 L455.6 1251.8 L488.2 1251.4 L520.8 1250.3 L553.4 1248.9 L586.0 1246.5 L618.6 1243.7 L651.2 1241.1 L683.8 1236.1 L716.4 1229.6 L749.0 1221.2 L781.6 1210.4 L814.2 1197.3 L846.8 1181.0 L879.4 1162.4 L912.0 1142.0 L944.6 1119.5 L977.2 1094.2"/>
<path class="c" stroke="#ff00ff" stroke-dasharray="12.2 9.1" stroke-dashoffset="0" d="M325.2 1185.4 L357.8 1185.6 L390.4 1185.8 L423.0 1186.1 L455.6 1186.6 L488.2 1187.0 L520.8 1187.5 L553.4 1188.2 L586.0 1189.0 L618.6 1190.1 L651.2 1190.8 L683.8 1190.8 L716.4 1190.8 L749.0 1189.0 L781.6 1185.0 L814.2 1177.8 L846.8 1166.5 L879.4 1151.1 L912.0 1126.2 L944.6 1096.6 L977.2 1055.7"/>
<path class="c" stroke="#0000ff" stroke-dasharray="12.2 9.1" stroke-dashoffset="0" d="M325.2 1247.0 L357.8 1247.0 L390.4 1247.0 L423.0 1246.5 L455.6 1245.6 L488.2 1244.1 L520.8 1241.1 L553.4 1235.1 L586.0 1227.0 L618.6 1216.5 L651.2 1202.0 L683.8 1181.5 L716.4 1158.5 L749.0 1127.7 L781.6 1091.9 L814.2 1049.9 L846.8 1005.5 L879.4 956.3 L912.0 906.9 L944.6 860.5 L977.2 814.7"/>
</g>
<path class="c" stroke="#000" stroke-dasharray="43.3 41.73" stroke-dashoffset="0" d="M325.2 1343.0 H977.2"/>
<text class="ti" x="324.4" y="1408.6" text-anchor="middle">-90</text>
<text class="ti" x="650.4" y="1408.6" text-anchor="middle">-80</text>
<text class="ti" x="976.4" y="1408.6" text-anchor="middle">-70</text>
<text class="ti" x="310.7" y="1363.4" text-anchor="end">0</text>
<text class="ti" x="310.7" y="1067.2" text-anchor="end">0.05</text>
<text class="ti" x="310.7" y="771.1" text-anchor="end">0.1</text>
</g>
<g id="inset-cr">
<rect x="1654.1" y="800.8" width="662.9" height="591.7" fill="#fff"/>
<rect class="ax" x="1654.1" y="800.8" width="662.9" height="591.7"/>
<path class="ax" d="M1985.5 1392.5 V1383.5 M1985.5 800.8 V809.8 M1654.1 1096.7 H1663.1 M2317.0 1096.7 H2308.0"/>
<g clip-path="url(#cr)">
<path class="c" stroke="#00ff00" stroke-dasharray="43.3 41.73" stroke-dashoffset="0" d="M1654.1 1098.4 L1687.2 1112.3 L1720.4 1116.7 L1753.5 1107.5 L1786.7 1094.3 L1819.8 1075.9 L1853.0 1057.1 L1886.1 1032.9 L1919.3 1015.2 L1952.4 997.1 L1985.5 982.3 L2018.7 969.2 L2051.8 959.1 L2085.0 951.8 L2118.1 945.0 L2151.3 941.1 L2184.4 937.8 L2217.6 935.9 L2250.7 935.1 L2283.9 934.4 L2317.0 933.9"/>
<path class="c" stroke="#d95319" stroke-dasharray="43.3 41.73" stroke-dashoffset="0" d="M1654.1 1241.6 L1687.2 1256.4 L1720.4 1261.0 L1753.5 1257.5 L1786.7 1248.9 L1819.8 1233.9 L1853.0 1223.8 L1886.1 1210.4 L1919.3 1199.0 L1952.4 1188.5 L1985.5 1179.1 L2018.7 1173.0 L2051.8 1167.6 L2085.0 1164.7 L2118.1 1162.8 L2151.3 1161.6 L2184.4 1161.1 L2217.6 1161.1 L2250.7 1161.1 L2283.9 1161.1 L2317.0 1161.1"/>
<path class="c" stroke="#00ffff" stroke-dasharray="43.3 41.73" stroke-dashoffset="0" d="M1654.1 665.9 L1687.2 707.9 L1720.4 749.9 L1753.5 791.9 L1786.7 839.1 L1819.8 885.0 L1853.0 926.7 L1886.1 963.2 L1919.3 995.1 L1952.4 1021.0 L1985.5 1042.8 L2018.7 1059.3 L2051.8 1072.1 L2085.0 1081.9 L2118.1 1089.2 L2151.3 1095.0 L2184.4 1097.8 L2217.6 1099.2 L2250.7 1100.1 L2283.9 1100.6 L2317.0 1100.8"/>
<path class="c" stroke="#ff0000" stroke-dasharray="12.2 9.1" stroke-dashoffset="0" d="M1654.1 1145.8 L1687.2 1165.8 L1720.4 1187.6 L1753.5 1207.2 L1786.7 1225.7 L1819.8 1240.8 L1853.0 1254.5 L1886.1 1265.5 L1919.3 1274.3 L1952.4 1282.0 L1985.5 1287.5 L2018.7 1291.9 L2051.8 1295.0 L2085.0 1297.3 L2118.1 1298.8 L2151.3 1299.9 L2184.4 1300.6 L2217.6 1301.0 L2250.7 1301.3 L2283.9 1301.4 L2317.0 1301.4"/>
<path class="c" stroke="#ff00ff" stroke-dasharray="12.2 9.1" stroke-dashoffset="0" d="M1654.1 1078.9 L1687.2 1115.1 L1720.4 1148.5 L1753.5 1173.7 L1786.7 1192.4 L1819.8 1205.2 L1853.0 1214.3 L1886.1 1220.4 L1919.3 1225.3 L1952.4 1227.0 L1985.5 1228.9 L2018.7 1230.4 L2051.8 1231.6 L2085.0 1232.7 L2118.1 1233.1 L2151.3 1233.6 L2184.4 1234.3 L2217.6 1234.6 L2250.7 1234.8 L2283.9 1235.0 L2317.0 1235.1"/>
<path class="c" stroke="#0000ff" stroke-dasharray="12.2 9.1" stroke-dashoffset="0" d="M1654.1 868.8 L1687.2 910.8 L1720.4 956.9 L1753.5 1007.4 L1786.7 1055.3 L1819.8 1100.6 L1853.0 1142.7 L1886.1 1178.6 L1919.3 1208.5 L1952.4 1232.8 L1985.5 1253.4 L2018.7 1268.0 L2051.8 1278.4 L2085.0 1286.5 L2118.1 1290.7 L2151.3 1294.2 L2184.4 1295.8 L2217.6 1296.7 L2250.7 1297.2 L2283.9 1297.2 L2317.0 1297.2"/>
</g>
<path class="c" stroke="#000" stroke-dasharray="43.3 41.73" stroke-dashoffset="0" d="M1654.1 1392.5 H2317.0"/>
<text class="ti" x="1653.3" y="1458.1" text-anchor="middle">70</text>
<text class="ti" x="1984.8" y="1458.1" text-anchor="middle">80</text>
<text class="ti" x="2316.2" y="1458.1" text-anchor="middle">90</text>
<text class="ti" x="1639.6" y="1412.9" text-anchor="end">0</text>
<text class="ti" x="1639.6" y="1117.1" text-anchor="end">0.05</text>
<text class="ti" x="1639.6" y="821.2" text-anchor="end">0.1</text>
</g>
<g id="annotations">
<rect class="an" shape-rendering="crispEdges" x="347.1" y="1553.0" width="192.6" height="110.2"/>
<rect class="an" shape-rendering="crispEdges" x="1885.2" y="1554.0" width="192.8" height="109.9"/>
<path class="an" d="M349.8 1553.0 L951.0 784.6"/>
<polygon fill="#000" points="978.8,749.0 959.5,811.4 951.0,784.6 922.9,782.7"/>
<path class="an" d="M539.5 1560.0 L938.5 1356.1"/>
<polygon fill="#000" points="978.7,1335.6 935.0,1384.1 938.5,1356.1 913.8,1342.6"/>
<path class="an" d="M1889.0 1553.0 L1670.3 844.7"/>
<polygon fill="#000" points="1657.0,801.6 1697.2,853.0 1670.3,844.7 1652.8,866.7"/>
<path class="an" d="M2080.0 1554.5 L2279.3 1417.6"/>
<polygon fill="#000" points="2316.5,1392.0 2279.4,1445.7 2279.3,1417.6 2253.1,1407.4"/>
</g>
<g id="labels">
<text transform="translate(1157.5 1839.5) scale(0.92 1)" style="font-size:62px;font-style:italic;">θ</text>
<text transform="translate(1190.5 1839.5) scale(0.84 1)" style="font-size:66px;">(</text>
<text transform="translate(1221.0 1844.0)" style="font-size:66px;">°</text>
<text transform="translate(1241.5 1839.5) scale(0.84 1)" style="font-size:66px;">)</text>
<g transform="translate(78.3 1057) rotate(-90)">
<text transform="translate(3.6 0)" style="font-size:66px;font-style:italic;">p</text>
<text transform="translate(42.0 28)" style="font-size:53px;font-style:italic;">p</text>
<text transform="translate(72.5 0) scale(0.9 1)" style="font-size:66px;">(</text>
<text transform="translate(95.5 0) scale(0.86 1)" style="font-size:64px;font-style:italic;">θ</text>
<text transform="translate(131.0 28)" style="font-size:53px;font-style:italic;">r</text>
<text transform="translate(147.0 0)" style="font-size:66px;">,</text>
<text transform="translate(169.5 0) scale(0.97 1)" style="font-size:66px;font-weight:bold;">p</text>
<text transform="translate(211.5 0)" style="font-size:66px;">,</text>
<text transform="translate(232.0 0)" style="font-size:66px;font-weight:bold;">s</text>
<text transform="translate(268.5 0) scale(0.9 1)" style="font-size:66px;">)</text>
</g>
</g>
</svg></body></html>
